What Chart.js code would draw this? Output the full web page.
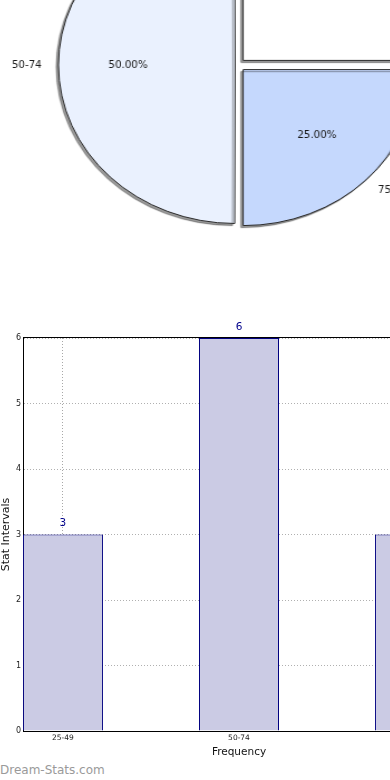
<!DOCTYPE html>
<html>
<head>
<meta charset="utf-8">
<script src="https://cdn.jsdelivr.net/npm/chart.js@4.4.1/dist/chart.umd.min.js"></script>
<style>
  html, body { margin: 0; padding: 0; background: #fff; }
  body { width: 390px; height: 780px; overflow: hidden; position: relative; }
  #pie { position: absolute; left: -12px; top: -135px; transform-origin: 250px 200px; transform: scaleX(1.115); }
  #bar { position: absolute; left: 0; top: 310px; }
  #wm { position: absolute; left: 0; top: 762px; font: 12px "DejaVu Sans", sans-serif; color: #9a9a9a; line-height: 16px; white-space: nowrap; }
</style>
</head>
<body>
<canvas id="pie" width="500" height="400"></canvas>
<canvas id="bar" width="470" height="449"></canvas>
<div id="wm">Dream-Stats.com</div>
<script>
// ---- data ----
const categories = ['25-49', '50-74', '75-99'];
const frequencies = [3, 6, 3];
const yTicks = [0, 1, 2, 3, 4, 5, 6];
const pieColors = ['#ffffff', '#eaf1fe', '#c5d8fd'];

Chart.defaults.font.family = '"DejaVu Sans", sans-serif';
Chart.defaults.color = '#222';

const SX = 1.115; // horizontal stretch of the pie
const total = frequencies.reduce((a, b) => a + b, 0);

// pie drawn clockwise from 3 o'clock, so order reversed to mimic counter-clockwise layout
const pieOrder = categories.map((_, i) => i).reverse();

const pieShadow = {
  id: 'pieShadow',
  beforeDatasetsDraw(chart) {
    const c = chart.ctx;
    c.save();
    c.shadowColor = 'rgba(0,0,0,0.40)';
    c.shadowOffsetX = -2;
    c.shadowOffsetY = 2;
    c.shadowBlur = 1;
  },
  afterDatasetsDraw(chart) { chart.ctx.restore(); }
};

function stretchedText(ctx, txt, x, y, align) {
  ctx.save();
  ctx.translate(x, y);
  ctx.scale(1 / SX, 1);
  ctx.textAlign = align;
  ctx.textBaseline = 'middle';
  ctx.fillText(txt, 0, 0);
  ctx.restore();
}

const pieLabels = {
  id: 'pieLabels',
  afterDraw(chart) {
    const ctx = chart.ctx;
    const meta = chart.getDatasetMeta(0);
    ctx.save();
    ctx.fillStyle = '#1a1a1a';
    ctx.font = '10.3px "DejaVu Sans", sans-serif';
    meta.data.forEach((arc, j) => {
      const idx = pieOrder[j];
      const p = arc.getProps(['x', 'y', 'startAngle', 'endAngle', 'outerRadius'], true);
      const circ = p.endAngle - p.startAngle;
      const fix = 1 - Math.sin(Math.min(Math.PI, circ));
      const t = (arc.options.offset || 0) / 4 * (1 + fix);
      const mid = (p.startAngle + p.endAngle) / 2;
      const cs = Math.cos(mid), sn = Math.sin(mid);
      const cx = p.x + cs * t, cy = p.y + sn * t;
      const r = p.outerRadius;
      const pct = (frequencies[idx] / total * 100).toFixed(2) + '%';
      stretchedText(ctx, pct, cx + cs * r * 0.6, cy + sn * r * 0.6, 'center');
      stretchedText(ctx, categories[idx], cx + cs * (r + 15), cy + sn * (r + 15), cs >= 0 ? 'left' : 'right');
    });
    ctx.restore();
  }
};

new Chart(document.getElementById('pie'), {
  type: 'pie',
  data: {
    labels: pieOrder.map(i => categories[i]),
    datasets: [{
      data: pieOrder.map(i => frequencies[i]),
      backgroundColor: pieOrder.map(i => pieColors[i]),
      borderColor: '#2a2a2a',
      borderWidth: 1,
      offset: pieOrder.map(i => (frequencies[i] / total >= 0.5 ? 10 : 26))
    }]
  },
  options: {
    responsive: false,
    animation: false,
    devicePixelRatio: 1,
    radius: 156,
    rotation: 90,
    layout: { padding: 0 },
    plugins: { legend: { display: false }, tooltip: { enabled: false } }
  },
  plugins: [pieShadow, pieLabels]
});

// ---- bar chart ----
const barValueLabels = {
  id: 'barValueLabels',
  afterDatasetsDraw(chart) {
    const ctx = chart.ctx;
    const meta = chart.getDatasetMeta(0);
    ctx.save();
    ctx.fillStyle = '#00008b';
    ctx.font = '10.5px "DejaVu Sans", sans-serif';
    ctx.textAlign = 'center';
    ctx.textBaseline = 'middle';
    meta.data.forEach((bar, i) => {
      ctx.fillText(String(frequencies[i]), bar.x, bar.y - 11);
    });
    ctx.restore();
  }
};

const frameTop = {
  id: 'frameTop',
  afterDraw(chart) {
    const { ctx, chartArea: a } = chart;
    ctx.save();
    ctx.strokeStyle = '#000';
    ctx.lineWidth = 1;
    ctx.beginPath();
    ctx.moveTo(a.left, a.top - 0.5);
    ctx.lineTo(a.right, a.top - 0.5);
    ctx.moveTo(a.right + 0.5, a.top);
    ctx.lineTo(a.right + 0.5, a.bottom);
    ctx.stroke();
    ctx.restore();
  }
};

const HALF = 0.227;
new Chart(document.getElementById('bar'), {
  type: 'bar',
  data: {
    datasets: [{
      data: categories.map((c, i) => ({ x: i, y: frequencies[i] })),
      backgroundColor: '#cbcbe4',
      borderColor: '#000080',
      borderWidth: 1,
      categoryPercentage: 1,
      barPercentage: 0.4545
    }]
  },
  options: {
    responsive: false,
    animation: false,
    devicePixelRatio: 1,
    layout: { padding: { top: 28, right: 15, left: 0, bottom: 0 } },
    plugins: { legend: { display: false }, tooltip: { enabled: false } },
    scales: {
      x: {
        type: 'linear',
        offset: false,
        min: -HALF,
        max: categories.length - 1 + HALF,
        z: 1,
        ticks: {
          stepSize: 1,
          includeBounds: false,
          autoSkip: false,
          maxRotation: 0,
          padding: 3,
          color: '#222',
          font: { size: 7.5 },
          callback: v => (Number.isInteger(v) && categories[v] !== undefined ? categories[v] : '')
        },
        grid: { color: '#a8a8a8', drawTicks: false, offset: false },
        border: { color: '#000', width: 1, dash: [1, 2] },
        title: { display: true, text: 'Frequency', color: '#111', font: { size: 10.5 }, padding: 0 },
        afterFit: s => { s.height = 28; }
      },
      y: {
        min: yTicks[0],
        max: yTicks[yTicks.length - 1],
        z: 1,
        afterBuildTicks: s => { s.ticks = yTicks.map(v => ({ value: v })); },
        ticks: { padding: 2, color: '#222', font: { size: 8 } },
        grid: { color: '#b0b0b0', drawTicks: false },
        border: { color: '#000', width: 1, dash: [1, 2] },
        title: { display: true, text: 'Stat Intervals', color: '#111', font: { size: 11 }, padding: 0 },
        afterFit: s => { s.width = 23; }
      }
    }
  },
  plugins: [barValueLabels, frameTop]
});
</script>
</body>
</html>
